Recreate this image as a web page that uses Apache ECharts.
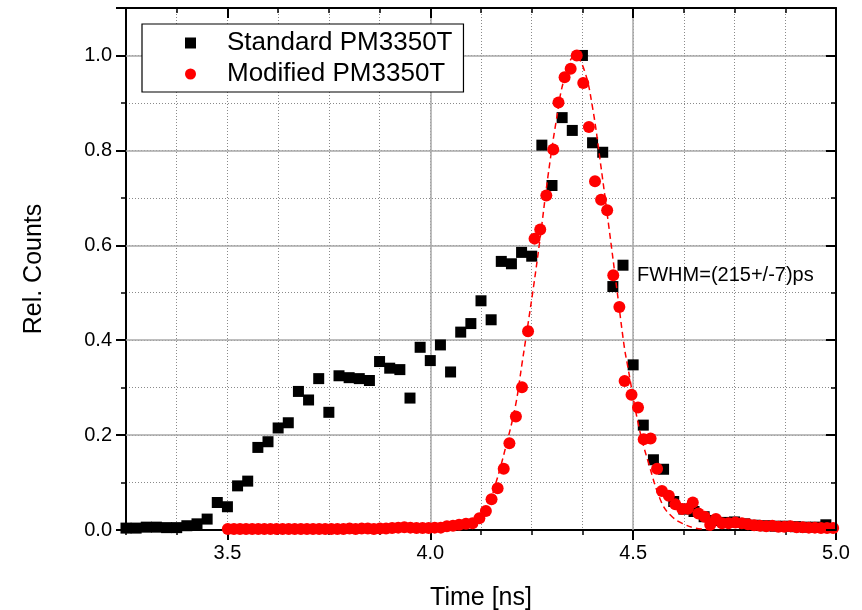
<!DOCTYPE html>
<html><head><meta charset="utf-8">
<script src="https://cdn.jsdelivr.net/npm/echarts@6/dist/echarts.min.js"></script>
<style>html,body{margin:0;padding:0;background:#fff}#c{width:862px;height:610px}</style>
</head><body><div id="c"></div>
<script>
// ---- Data ----
const stdTime = [3.25,3.275,3.3,3.325,3.35,3.375,3.4,3.425,3.45,3.475,3.5,3.525,3.55,3.575,3.6,3.625,3.65,3.675,3.7,3.725,3.75,3.775,3.8,3.825,3.85,3.875,3.9,3.925,3.95,3.975,4.0,4.025,4.05,4.075,4.1,4.125,4.15,4.175,4.2,4.225,4.25,4.275,4.3,4.325,4.35,4.375,4.4,4.425,4.45,4.475,4.5,4.525,4.55,4.575,4.6,4.625,4.65,4.675,4.7,4.725,4.75,4.775,4.8,4.825,4.85,4.875,4.9,4.925,4.95,4.975];
const stdCounts = [0.004,0.004,0.006,0.006,0.005,0.005,0.009,0.013,0.023,0.058,0.049,0.093,0.103,0.174,0.186,0.215,0.226,0.292,0.274,0.319,0.248,0.325,0.321,0.319,0.315,0.355,0.341,0.338,0.278,0.385,0.357,0.390,0.333,0.417,0.435,0.483,0.443,0.566,0.561,0.585,0.577,0.811,0.726,0.869,0.842,1.000,0.816,0.796,0.513,0.558,0.348,0.221,0.148,0.128,0.060,0.044,0.039,0.028,0.020,0.016,0.017,0.013,0.010,0.009,0.008,0.008,0.007,0.006,0.006,0.011];

const modTime = [3.501,3.516,3.531,3.546,3.561,3.576,3.591,3.606,3.621,3.636,3.651,3.666,3.681,3.696,3.711,3.726,3.741,3.756,3.771,3.786,3.801,3.816,3.831,3.846,3.861,3.876,3.891,3.906,3.921,3.936,3.951,3.966,3.981,3.996,4.011,4.026,4.041,4.056,
 4.071,4.088,4.104,4.121,4.137,4.151,4.166,4.181,4.195,4.211,4.226,4.241,4.257,4.271,4.286,4.303,4.316,4.331,4.346,4.361,4.377,4.391,4.406,4.421,4.436,4.451,4.466,4.479,4.496,4.512,4.526,4.543,4.559,4.571,4.588,4.604,4.621,4.635,4.647,4.661,4.676,4.690,4.704,4.719,4.735,4.752,4.768,4.783,4.798,4.813,4.828,4.843,4.858,4.873,4.888,4.903,4.918,4.933,4.948,4.963,4.978,4.993];
const modCounts = [0.002,0.002,0.002,0.002,0.002,0.002,0.002,0.002,0.002,0.002,0.002,0.002,0.002,0.002,0.002,0.002,0.002,0.002,0.002,0.002,0.003,0.002,0.003,0.003,0.002,0.003,0.003,0.004,0.005,0.006,0.005,0.004,0.004,0.004,0.005,0.005,0.008,0.009,
 0.011,0.013,0.014,0.025,0.040,0.065,0.088,0.129,0.183,0.239,0.301,0.419,0.614,0.633,0.705,0.802,0.901,0.954,0.972,1.000,0.942,0.849,0.735,0.696,0.674,0.537,0.470,0.314,0.285,0.258,0.191,0.193,0.129,0.082,0.072,0.054,0.044,0.045,0.058,0.035,0.028,0.011,0.023,0.014,0.014,0.016,0.014,0.012,0.010,0.009,0.008,0.009,0.007,0.007,0.008,0.006,0.006,0.005,0.005,0.004,0.004,0.004];

const fitTime = [4.03,4.06,4.09,4.113,4.14,4.162,4.186,4.21,4.226,4.254,4.27,4.29,4.31,4.33,4.357,4.38,4.40,4.42,4.44,4.461,4.478,4.486,4.514,4.538,4.571,4.596,4.621,4.654,4.70];
const fitCounts = [0.000,0.001,0.005,0.014,0.045,0.100,0.175,0.262,0.350,0.510,0.610,0.745,0.860,0.950,1.000,0.968,0.890,0.770,0.640,0.500,0.387,0.348,0.218,0.141,0.056,0.028,0.014,0.004,0.000];

const xTickLabels = ['3.5','4.0','4.5','5.0'];
const yTickLabels = ['0.0','0.2','0.4','0.6','0.8','1.0'];
const seriesNames = ['Standard PM3350T','Modified PM3350T'];
const fitNote = 'FWHM=(215+/-7)ps';

// ---- Chart ----
const F = '"Liberation Sans", Arial, Helvetica, sans-serif';
const xMin = 3.25, xMax = 5.0, yMin = 0, yMax = 1.1;
const G = {left:126, right:26, top:8, bottom:80};
const plotW = 862 - G.left - G.right;
const majorLeft = G.left + (3.5 - xMin) * plotW / (xMax - xMin);
const isMult = (v, s) => Math.abs(v / s - Math.round(v / s)) < 1e-6;
const fmtX = v => { const s = v.toFixed(1); return xTickLabels.includes(s) && isMult(v, 0.5) ? s : ''; };
const fmtY = v => { const s = v.toFixed(1); return yTickLabels.includes(s) && isMult(v, 0.2) ? s : ''; };
const zip = (a, b) => a.map((x, i) => [x, b[i]]);

const black = '#000';
const minorGrid = () => ({show:true, showMinLine:false, showMaxLine:false, lineStyle:{color:'#8a8a8a', width:1, type:[1,2]}});
const majorGrid = () => ({show:true, showMinLine:false, showMaxLine:false, lineStyle:{color:'#a8a8a8', width:1.5, type:'solid'}});
const axisLine = () => ({show:true, onZero:false, lineStyle:{color:black, width:2}});
const noLine = () => ({show:false});
const tick = (inside, len, w) => ({show:true, inside:inside, length:len, lineStyle:{color:black, width:w}});

const chart = echarts.init(document.getElementById('c'), null, {renderer:'canvas'});
chart.setOption({
  animation:false,
  backgroundColor:'#fff',
  textStyle:{fontFamily:F},
  grid:[
    {left:G.left, right:G.right, top:G.top, bottom:G.bottom, containLabel:false, outerBoundsMode:'none'},
    {left:majorLeft, right:G.right, top:G.top, bottom:G.bottom, containLabel:false, outerBoundsMode:'none'}
  ],
  xAxis:[
    {type:'value', gridIndex:0, position:'bottom', min:xMin, max:xMax, interval:0.125, z:1,
     axisLine:axisLine(), axisTick:tick(false, 5, 1.5),
     axisLabel:{show:false}, splitLine:minorGrid(),
     name:'Time [ns]', nameLocation:'middle', nameGap:56,
     nameTextStyle:{fontFamily:F, fontSize:25, color:black}},
    {type:'value', gridIndex:0, position:'top', min:xMin, max:xMax, interval:0.125, z:5,
     axisLine:axisLine(), axisTick:tick(true, 5, 1.5),
     axisLabel:{show:false}, splitLine:{show:false}},
    {type:'value', gridIndex:1, position:'bottom', min:3.5, max:xMax, interval:0.5, z:2,
     axisLine:noLine(), axisTick:tick(false, 10, 2),
     axisLabel:{show:true, margin:13, fontFamily:F, fontSize:20, color:black, formatter:fmtX},
     splitLine:majorGrid()},
    {type:'value', gridIndex:1, position:'top', min:3.5, max:xMax, interval:0.5, z:5,
     axisLine:noLine(), axisTick:tick(true, 10, 2),
     axisLabel:{show:false}, splitLine:{show:false}}
  ],
  yAxis:[
    {type:'value', gridIndex:0, position:'left', min:yMin, max:yMax, interval:0.1, z:1,
     axisLine:axisLine(), axisTick:tick(false, 5, 1.5),
     axisLabel:{show:false}, splitLine:minorGrid()},
    {type:'value', gridIndex:0, position:'left', min:yMin, max:yMax, interval:0.2, z:2,
     axisLine:noLine(), axisTick:tick(false, 10, 2),
     axisLabel:{show:true, margin:14, fontFamily:F, fontSize:20, color:black, formatter:fmtY},
     splitLine:majorGrid(),
     name:'Rel. Counts', nameLocation:'middle', nameGap:79,
     nameTextStyle:{fontFamily:F, fontSize:25, color:black}},
    {type:'value', gridIndex:0, position:'right', min:yMin, max:yMax, interval:0.1, z:5,
     axisLine:axisLine(), axisTick:tick(true, 5, 1.5),
     axisLabel:{show:false}, splitLine:{show:false}},
    {type:'value', gridIndex:0, position:'right', min:yMin, max:yMax, interval:0.2, z:5,
     axisLine:noLine(), axisTick:tick(true, 10, 2),
     axisLabel:{show:false}, splitLine:{show:false}},
    {type:'value', gridIndex:1, show:false, min:yMin, max:yMax}
  ],
  legend:{
    show:true, orient:'vertical', left:142, top:24, z:10,
    padding:[4, 11, 3, 43], itemGap:1, itemWidth:11, itemHeight:11,
    backgroundColor:'#fff', borderColor:black, borderWidth:1.2, borderRadius:0,
    data:[{name:seriesNames[0], icon:'rect'}, {name:seriesNames[1], icon:'circle'}],
    formatter: n => '{a|' + n + '}',
    textStyle:{fontFamily:F, fontSize:26, color:black, lineHeight:30,
      rich:{a:{fontFamily:F, fontSize:26, color:black, lineHeight:30, padding:[0,0,0,26]}}}
  },
  graphic:[
    {type:'text', left:637, top:265, z:10,
     style:{text:fitNote, fontFamily:F, fontSize:20, fill:black}}
  ],
  series:[
    {name:seriesNames[0], type:'scatter', xAxisIndex:0, yAxisIndex:0,
     symbol:'rect', symbolSize:11, itemStyle:{color:black, opacity:1},
     data:zip(stdTime, stdCounts), z:2},
    {name:'fit', type:'line', xAxisIndex:0, yAxisIndex:0, smooth:0.4, showSymbol:false, symbol:'none',
     lineStyle:{color:'#ff0000', width:1.5, type:[6,4]},
     data:zip(fitTime, fitCounts), z:3},
    {name:seriesNames[1], type:'scatter', xAxisIndex:0, yAxisIndex:0,
     symbol:'circle', symbolSize:12, itemStyle:{color:'#ff0000', opacity:1},
     data:zip(modTime, modCounts), z:4}
  ]
});
</script>
</body></html>
